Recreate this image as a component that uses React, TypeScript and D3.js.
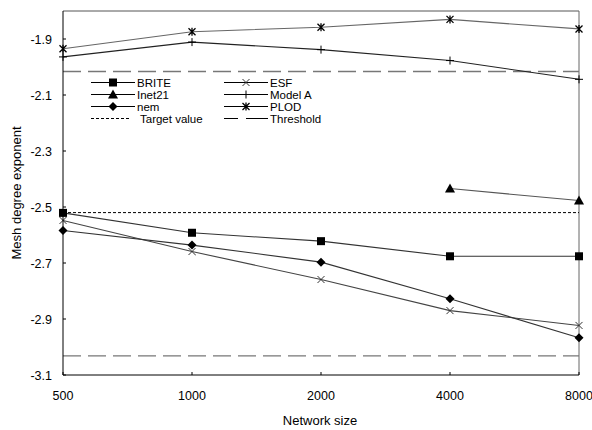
import React from "react";
import * as d3 from "d3";

const sizes = [500, 1000, 2000, 4000, 8000];
const xTickLabels = ["500", "1000", "2000", "4000", "8000"];
const yTicks = [-3.1, -2.9, -2.7, -2.5, -2.3, -2.1, -1.9];
const yTickLabels = ["-3.1", "-2.9", "-2.7", "-2.5", "-2.3", "-2.1", "-1.9"];

const brite = [-2.521, -2.592, -2.622, -2.676, -2.676];
const esf = [-2.548, -2.659, -2.759, -2.87, -2.923];
const inet21Sizes = [4000, 8000];
const inet21 = [-2.434, -2.477];
const modelA = [-1.964, -1.911, -1.938, -1.977, -2.044];
const nem = [-2.584, -2.636, -2.697, -2.828, -2.967];
const plod = [-1.935, -1.874, -1.858, -1.83, -1.864];
const targetValue = -2.52;
const thresholds = [-2.016, -3.032];

type Marker = "square" | "triangle" | "diamond" | "x" | "plus" | "star";

const series: { name: string; xs: number[]; ys: number[]; marker: Marker; color: string }[] = [
  { name: "BRITE", xs: sizes, ys: brite, marker: "square", color: "#333" },
  { name: "ESF", xs: sizes, ys: esf, marker: "x", color: "#444" },
  { name: "Inet21", xs: inet21Sizes, ys: inet21, marker: "triangle", color: "#555" },
  { name: "Model A", xs: sizes, ys: modelA, marker: "plus", color: "#222" },
  { name: "nem", xs: sizes, ys: nem, marker: "diamond", color: "#333" },
  { name: "PLOD", xs: sizes, ys: plod, marker: "star", color: "#666" },
];

const W = 592;
const H = 430;
const L = 63, R = 579, T = 11, B = 375;
const FONT = "'Liberation Sans', Arial, sans-serif";

function MarkerShape({ type, x, y }: { type: Marker; x: number; y: number }) {
  switch (type) {
    case "square":
      return <rect x={x - 4} y={y - 4} width={8} height={8} fill="#000" />;
    case "triangle":
      return <path d={`M${x},${y - 5}L${x + 5},${y + 4}L${x - 5},${y + 4}Z`} fill="#000" />;
    case "diamond":
      return <path d={`M${x},${y - 4.5}L${x + 4.5},${y}L${x},${y + 4.5}L${x - 4.5},${y}Z`} fill="#000" />;
    case "x":
      return (
        <path d={`M${x - 3.5},${y - 3.5}L${x + 3.5},${y + 3.5}M${x - 3.5},${y + 3.5}L${x + 3.5},${y - 3.5}`} stroke="#333" strokeWidth={1} fill="none" />
      );
    case "plus":
      return <path d={`M${x},${y - 4}L${x},${y + 4}M${x - 4},${y}L${x + 4},${y}`} stroke="#000" strokeWidth={1} fill="none" />;
    case "star":
      return (
        <path
          d={`M${x - 3.5},${y - 3.5}L${x + 3.5},${y + 3.5}M${x - 3.5},${y + 3.5}L${x + 3.5},${y - 3.5}M${x},${y - 4}L${x},${y + 4}`}
          stroke="#000"
          strokeWidth={1.3}
          fill="none"
        />
      );
  }
}

export default function App() {
  const x = d3.scaleLog().base(2).domain([500, 8000]).range([L, R]);
  const y = d3.scaleLinear().domain([-3.1, -1.8]).range([B, T]);
  const line = d3
    .line<[number, number]>()
    .x((d) => x(d[0]))
    .y((d) => y(d[1]));

  const legendRows = [
    { col: 0, row: 0, name: "BRITE", marker: "square" as Marker },
    { col: 1, row: 0, name: "ESF", marker: "x" as Marker },
    { col: 0, row: 1, name: "Inet21", marker: "triangle" as Marker },
    { col: 1, row: 1, name: "Model A", marker: "plus" as Marker },
    { col: 0, row: 2, name: "nem", marker: "diamond" as Marker },
    { col: 1, row: 2, name: "PLOD", marker: "star" as Marker },
  ];
  const colX = [91, 224];
  const rowY = [82.5, 94.5, 106.5, 118.5];
  const LF = 11.5;

  return (
    <svg width={W} height={H} style={{ position: "absolute", left: 0, top: 0, background: "#fff" }} fontFamily={FONT}>
      <rect x={0} y={0} width={W} height={H} fill="#fff" />
      {/* frame */}
      <line x1={L} x2={R} y1={T} y2={T} stroke="#555" />
      <line x1={R} x2={R} y1={T} y2={B} stroke="#666" />
      {/* threshold */}
      {thresholds.map((t, i) => (
        <line key={i} x1={L} x2={R} y1={y(t)} y2={y(t)} stroke="#777" strokeWidth={1.3} strokeDasharray="18,7" />
      ))}
      {/* target */}
      <line x1={L} x2={R} y1={y(targetValue)} y2={y(targetValue)} stroke="#000" strokeDasharray="3,2" />
      {/* series */}
      {series.map((s) => (
        <g key={s.name}>
          <path d={line(s.xs.map((v, i) => [v, s.ys[i]] as [number, number])) || ""} fill="none" stroke={s.color} strokeWidth={1.1} />
          {s.xs.map((v, i) => (
            <MarkerShape key={i} type={s.marker} x={x(v)} y={y(s.ys[i])} />
          ))}
        </g>
      ))}
      {/* axes */}
      <line x1={L} x2={L} y1={T} y2={B} stroke="#000" />
      <line x1={L} x2={R} y1={B} y2={B} stroke="#000" />
      {yTicks.map((t, i) => (
        <g key={t}>
          <line x1={L} x2={L + 3} y1={y(t)} y2={y(t)} stroke="#000" />
          <text x={52} y={y(t) + 4.5} textAnchor="end" fontSize={12.5} fill="#000">
            {yTickLabels[i]}
          </text>
        </g>
      ))}
      {sizes.map((s, i) => (
        <g key={s}>
          <line x1={x(s)} x2={x(s)} y1={B} y2={B - 3} stroke="#000" />
          <text x={x(s)} y={399.5} textAnchor="middle" fontSize={12.5} fill="#000">
            {xTickLabels[i]}
          </text>
        </g>
      ))}
      <text x={320} y={424.5} textAnchor="middle" fontSize={13}>
        Network size
      </text>
      <text transform={`translate(21,${(T + B) / 2}) rotate(-90)`} textAnchor="middle" fontSize={13}>
        Mesh degree exponent
      </text>
      {/* legend */}
      {legendRows.map((r) => {
        const lx = colX[r.col];
        const ly = rowY[r.row];
        return (
          <g key={r.name}>
            <line x1={lx} x2={lx + 44} y1={ly} y2={ly} stroke="#000" />
            <MarkerShape type={r.marker} x={lx + 22} y={ly} />
            <text x={lx + 46} y={ly + 4} fontSize={LF}>
              {r.name}
            </text>
          </g>
        );
      })}
      <line x1={colX[0]} x2={colX[0] + 38} y1={rowY[3]} y2={rowY[3]} stroke="#000" strokeDasharray="3,2" />
      <text x={colX[0] + 49} y={rowY[3] + 4} fontSize={LF}>
        Target value
      </text>
      <line x1={colX[1]} x2={colX[1] + 14} y1={rowY[3]} y2={rowY[3]} stroke="#000" />
      <line x1={colX[1] + 22} x2={colX[1] + 44} y1={rowY[3]} y2={rowY[3]} stroke="#000" />
      <text x={colX[1] + 46} y={rowY[3] + 4} fontSize={LF}>
        Threshold
      </text>
    </svg>
  );
}
